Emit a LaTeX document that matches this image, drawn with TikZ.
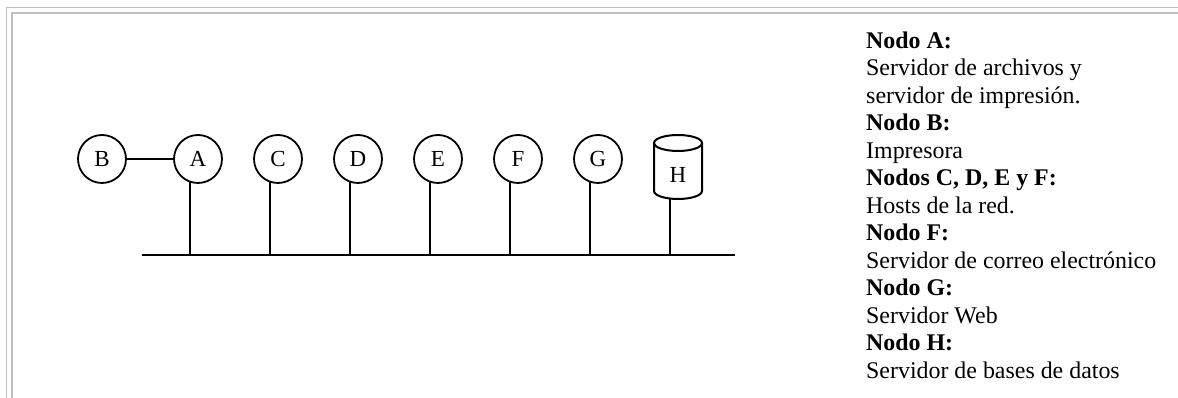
\documentclass[tikz,border=0pt]{standalone}
\usepackage{fontspec}
\setmainfont{Liberation Serif}
\begin{document}
\begin{tikzpicture}[x=1pt,y=1pt,
  hostnode/.style={circle,draw,line width=1.8pt,minimum size=48pt,inner sep=0pt,font=\fontsize{23}{27}\selectfont},
  wire/.style={line width=2pt},
  frameline/.style={color=black!25},
  legend/.style={anchor=base west,inner sep=0pt,font=\fontsize{23.9}{27}\selectfont},
  legendb/.style={legend,font=\fontsize{23.9}{27}\selectfont\bfseries}]
\useasboundingbox (0,0) rectangle (1178,398);
% frame
\draw[frameline,line width=1.3pt] (6.5,0) -- (6.5,390.5) -- (1178,390.5);
\draw[frameline,line width=2pt] (12,0) -- (12,385) -- (1178,385);
% bus
\coordinate (busL) at (141.7,143);
\coordinate (busR) at (735,143);
\draw[wire] (busL) -- (busR);
% hosts
\node[hostnode] (B) at (102,239) {B};
\node[hostnode] (A) at (198,239) {A};
\node[hostnode] (C) at (278,239) {C};
\node[hostnode] (D) at (358,239) {D};
\node[hostnode] (E) at (438,239) {E};
\node[hostnode] (F) at (518,239) {F};
\node[hostnode] (G) at (598,239) {G};
\draw[wire] (B) -- (A);
\foreach \n in {A,C,D,E,F,G}
  \draw[wire] ([xshift=-8pt,yshift=1.4pt]\n.south) -- ([xshift=-8pt]\n.south |- busL);
% database H
\node[inner sep=0pt,font=\fontsize{23}{27}\selectfont] (H) at (678,223) {H};
\draw[wire] (654,255) -- (654,207) arc[start angle=180,end angle=360,x radius=24,y radius=8] -- (702,255);
\draw[wire] (678,255) ellipse [x radius=24,y radius=8];
\coordinate (Hb) at (670,199.5);
\draw[wire] (Hb) -- (Hb |- busL);
% legend
\node[legendb] (t1) at (866,349.7) {Nodo A:};
\node[legend] (t2) at (866,322.2) {Servidor de archivos y};
\node[legend] (t3) at (866,294.7) {servidor de impresión.};
\node[legendb] (t4) at (866,267.2) {Nodo B:};
\node[legend] (t5) at (866,239.7) {Impresora};
\node[legendb] (t6) at (866,212.2) {Nodos C, D, E y F:};
\node[legend] (t7) at (866,184.7) {Hosts de la red.};
\node[legendb] (t8) at (866,157.2) {Nodo F:};
\node[legend] (t9) at (866,129.7) {Servidor de correo electrónico};
\node[legendb] (t10) at (866,102.2) {Nodo G:};
\node[legend] (t11) at (866,74.7) {Servidor Web};
\node[legendb] (t12) at (866,47.2) {Nodo H:};
\node[legend] (t13) at (866,19.7) {Servidor de bases de datos};
\end{tikzpicture}
\end{document}
